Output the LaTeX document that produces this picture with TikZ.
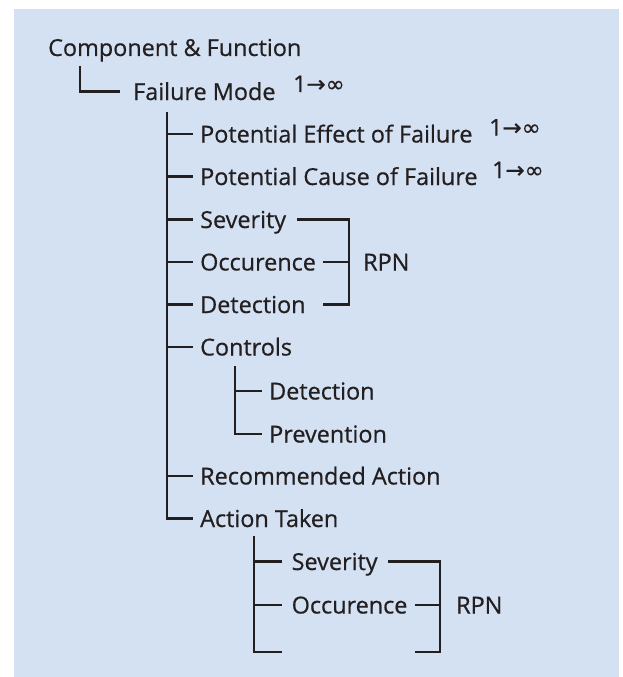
\documentclass[tikz,border=0pt]{standalone}
\usepackage{fontspec}
\setmainfont{Open Sans}[FakeBold=0.6]
\newfontfamily\symfont{DejaVu Sans}[FakeBold=0.2]
\definecolor{bg}{RGB}{212,225,243}
\definecolor{ink}{RGB}{35,31,32}
\begin{document}
\begin{tikzpicture}[x=1pt,y=-1pt,
  lbl/.style={anchor=west, inner sep=0pt, text height=17pt, text depth=0pt,
    font=\fontsize{23.4}{25}\selectfont, text=ink},
  sup/.style={anchor=base west, inner sep=0pt,
    font=\fontsize{23}{24}\selectfont, text=ink},
  conn/.style={draw=ink, line width=2.8pt}]
\useasboundingbox (0,0) rectangle (623,677);
\fill[bg] (14,9) rectangle (619,677);

% level 0 and 1
\node[lbl] (cf) at (48,47.5) {Component \& Function};
\node[lbl] (fm) at (133,91.5) {Failure Mode};
\node[sup] (fmn) at (293,92) {1{\symfont →∞}};

% level 2
\node[lbl] (pe) at (200,134) {Potential Effect of Failure};
\node[sup] (pen) at (489,135.5) {1{\symfont →∞}};
\node[lbl] (pc) at (200,176.5) {Potential Cause of Failure};
\node[sup] (pcn) at (492,178) {1{\symfont →∞}};
\node[lbl] (sev) at (200,219.5) {Severity};
\node[lbl] (occ) at (200,262) {Occurence};
\node[lbl] (det) at (200,304.5) {Detection};
\node[lbl] (rpn) at (363,262) {RPN};
\node[lbl] (ctl) at (200,347) {Controls};
\node[lbl] (cdet) at (269,391) {Detection};
\node[lbl] (cprev) at (269,434) {Prevention};
\node[lbl] (rec) at (200,476) {Recommended Action};
\node[lbl] (act) at (200,518.5) {Action Taken};

% level 3 under Action Taken
\node[lbl] (sev2) at (291.5,561.5) {Severity};
\node[lbl] (occ2) at (291.5,605) {Occurence};
\node[lbl] (rpn2) at (456,605) {RPN};

% junction coordinates
\coordinate (v0) at (80,66);
\coordinate (v1) at (167,112);
\coordinate (v2) at (235,366);
\coordinate (v3) at (254,536);
\coordinate (e2) at (281.5,652);
\coordinate (b1) at (349,219.5);
\coordinate (b1s) at (297,219.5);
\coordinate (b1o) at (322.5,262);
\coordinate (b2) at (440,561.5);
\coordinate (b2s) at (388,561.5);
\coordinate (b2o) at (415,605);
\coordinate (b2e) at (415,652);

% tree connectors
\draw[conn] (v0) |- ([xshift=-13pt]fm.west);
\draw[conn] (v1) |- ([xshift=-7pt]act.west);
\foreach \n in {pe,pc,sev,occ,det,ctl,rec}
  \draw[conn] (v1 |- \n.west) -- ([xshift=-7pt]\n.west);
\draw[conn] (v2) |- ([xshift=-7.5pt]cprev.west);
\draw[conn] (v2 |- cdet.west) -- ([xshift=-7.5pt]cdet.west);
\draw[conn] (v3) |- (e2);
\draw[conn] (v3 |- sev2.west) -- ([xshift=-10pt]sev2.west);
\draw[conn] (v3 |- occ2.west) -- ([xshift=-10pt]occ2.west);

% RPN brackets
\draw[conn] (b1s) -| (b1 |- det.west) -- (b1o |- det.west);
\draw[conn] (b1o) -- (b1 |- b1o);
\draw[conn] (b2s) -| (b2 |- b2e) -- (b2e);
\draw[conn] (b2o) -- (b2 |- b2o);
\end{tikzpicture}
\end{document}
